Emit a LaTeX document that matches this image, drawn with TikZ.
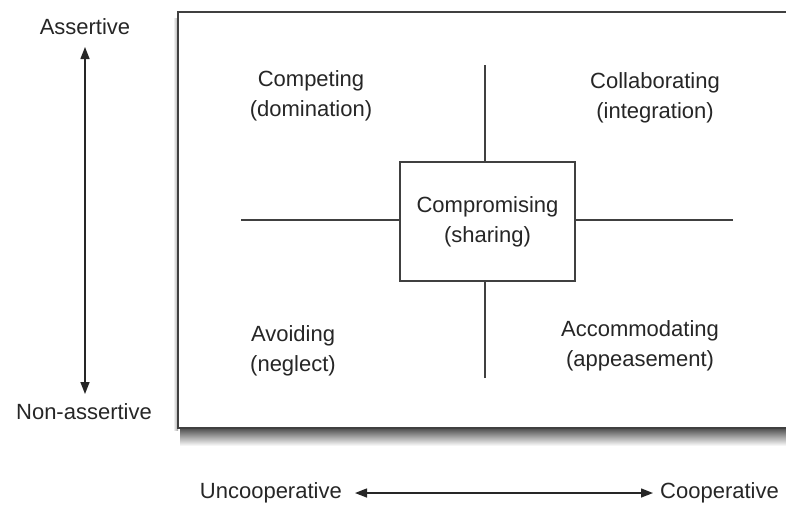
\documentclass[tikz,border=0pt]{standalone}
\usepackage{fontspec}
\setmainfont{Liberation Sans}
\usetikzlibrary{arrows.meta}
\definecolor{ink}{HTML}{262626}
\definecolor{rule}{HTML}{404040}
\begin{document}
\begin{tikzpicture}[x=1pt,y=-1pt,
  lbl/.style={font=\fontsize{22}{30}\selectfont, text=ink, align=center, inner sep=0pt},
  axis/.style={draw=ink, line width=1.4pt, {Triangle[length=12pt,width=9pt]}-{Triangle[length=12pt,width=9pt]}},
  quad/.style={draw=rule, line width=1.3pt}]
\useasboundingbox (0,0) rectangle (786,507);
\begin{scope}
\clip (0,0) rectangle (786,507);
% shadow
\shade[top color=black!70, bottom color=white] (180,428) rectangle (800,446);
\shade[left color=white, right color=black!35] (173,18) rectangle (178,430);
% main frame
\draw[rule, line width=2pt, fill=white] (178,12) rectangle (800,428);
\end{scope}
% centre box
\node[quad, fill=white, minimum width=175pt, minimum height=119pt, inner sep=0pt] (cbox) at (487.5,221.5) {};
\node[lbl] (comp) at (cbox.center) {Compromising\\(sharing)};
% quadrant lines
\coordinate (top) at (485,65);
\coordinate (bot) at (485,378);
\coordinate (lft) at (241,220);
\coordinate (rgt) at (733,220);
\draw[quad] (top) -- (top |- cbox.north);
\draw[quad] (bot) -- (bot |- cbox.south);
\draw[quad] (lft) -- (lft -| cbox.west);
\draw[quad] (rgt) -- (rgt -| cbox.east);
% labels
\node[lbl] (competing) at (311,96) {Competing\\(domination)};
\node[lbl] (collab) at (655,98) {Collaborating\\(integration)};
\node[lbl] (avoid) at (293,351) {Avoiding\\(neglect)};
\node[lbl] (accom) at (640,346) {Accommodating\\(appeasement)};
% axes
\node[lbl] (assert) at (85,27) {Assertive};
\node[lbl] (nonassert) at (84,412) {Non-assertive};
\node[lbl, anchor=east] (uncoop) at (342,493) {Uncooperative};
\node[lbl, anchor=west] (coop) at (660,493) {Cooperative};
\draw[axis] (assert.south |- 0,47) -- (assert.south |- 0,394);
\draw[axis] (uncoop.east) ++(13,0) -- ([xshift=-7pt]coop.west);
\end{tikzpicture}
\end{document}
